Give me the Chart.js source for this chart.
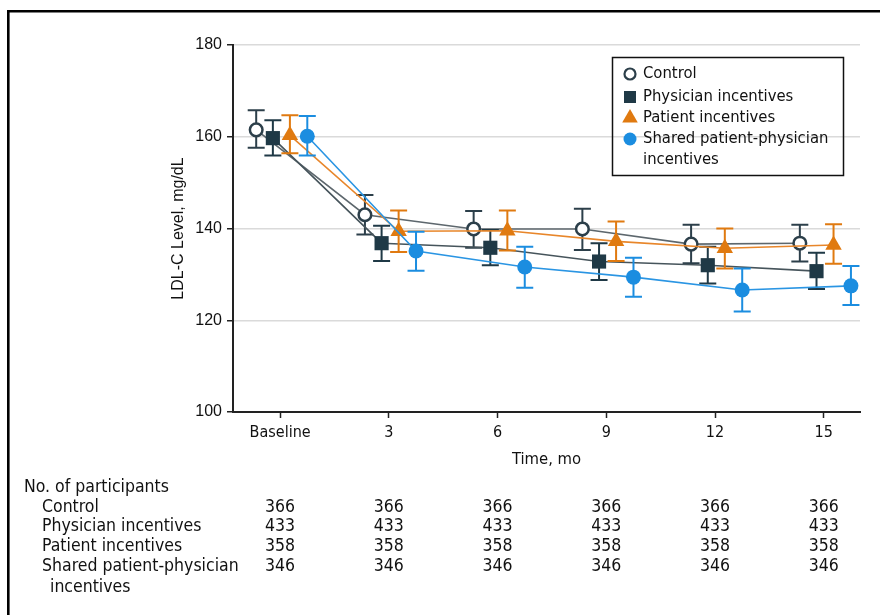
<!DOCTYPE html>
<html>
<head>
<meta charset="utf-8">
<script src="https://cdn.jsdelivr.net/npm/chart.js@4/dist/chart.umd.min.js"></script>
<style>
  html, body { margin: 0; padding: 0; background: #fff; }
  canvas { display: block; }
</style>
</head>
<body>
<canvas id="c" width="880" height="615"></canvas>
<script>
// ---- data ----
const months = [0, 3, 6, 9, 12, 15];
const tickLabels = ['Baseline', '3', '6', '9', '12', '15'];
const seriesNames = ['Control', 'Physician incentives', 'Patient incentives', 'Shared patient-physician incentives'];

const controlMean   = [161.5, 143.0, 139.9, 139.9, 136.6, 136.8];
const controlLow    = [157.6, 138.7, 135.8, 135.3, 132.4, 132.8];
const controlHigh   = [165.8, 147.3, 143.8, 144.3, 140.8, 140.8];

const physicianMean = [159.7, 136.8, 135.8, 132.8, 132.0, 130.7];
const physicianLow  = [155.9, 132.9, 132.0, 128.8, 128.0, 126.8];
const physicianHigh = [163.6, 140.6, 139.7, 136.8, 136.0, 134.7];

const patientMean   = [160.3, 139.4, 139.5, 137.2, 135.7, 136.4];
const patientLow    = [156.4, 134.9, 135.2, 132.9, 131.3, 132.3];
const patientHigh   = [164.7, 143.9, 143.9, 141.5, 140.0, 140.9];

const sharedMean    = [160.1, 135.1, 131.6, 129.4, 126.6, 127.5];
const sharedLow     = [155.9, 130.8, 127.1, 125.1, 121.9, 123.3];
const sharedHigh    = [164.5, 139.3, 136.0, 133.6, 131.3, 131.8];

const participantsTitle = 'No. of participants';
const rowLabels = ['Control', 'Physician incentives', 'Patient incentives', 'Shared patient-physician'];
const controlN   = [366, 366, 366, 366, 366, 366];
const physicianN = [433, 433, 433, 433, 433, 433];
const patientN   = [358, 358, 358, 358, 358, 358];
const sharedN    = [346, 346, 346, 346, 346, 346];

// ---- styles ----
const COND = '"DejaVu Sans Condensed", "Liberation Sans Narrow", "DejaVu Sans", sans-serif';
const REG = '"Liberation Sans", Arial, sans-serif';
const TXT = '#111111';
const dodge = [-0.66, -0.2, 0.27, 0.75];

const styles = [
  { line: '#5d676d', marker: '#2c3f4a', fill: '#ffffff', shape: 'circle', r: 6.3, bw: 2.5 },
  { line: '#46545b', marker: '#1f3946', fill: '#1f3946', shape: 'rect', r: 10, bw: 0 },
  { line: '#e8862a', marker: '#e07a10', fill: '#e07a10', shape: 'triangle', r: 9.5, bw: 0 },
  { line: '#2a95e3', marker: '#1b8de0', fill: '#1b8de0', shape: 'circle', r: 7.5, bw: 0 }
];
const means = [controlMean, physicianMean, patientMean, sharedMean];
const lows = [controlLow, physicianLow, patientLow, sharedLow];
const highs = [controlHigh, physicianHigh, patientHigh, sharedHigh];
const counts = [controlN, physicianN, patientN, sharedN];

const datasets = means.map((m, k) => ({
  label: seriesNames[k],
  data: months.map((t, i) => ({ x: t + dodge[k], y: m[i] })),
  borderColor: styles[k].line,
  borderWidth: 1.6,
  backgroundColor: styles[k].fill,
  pointBackgroundColor: styles[k].fill,
  pointBorderColor: styles[k].marker,
  pointBorderWidth: styles[k].bw,
  pointStyle: styles[k].shape,
  pointRadius: styles[k].r,
  tension: 0,
  fill: false,
  order: 4 - k
}));

function drawMarker(ctx, shape, x, y, r, fill, stroke, bw) {
  ctx.save();
  ctx.beginPath();
  if (shape === 'circle') {
    ctx.arc(x, y, r, 0, Math.PI * 2);
  } else if (shape === 'rect') {
    const s = r * Math.SQRT1_2;
    ctx.rect(x - s, y - s, 2 * s, 2 * s);
  } else {
    ctx.moveTo(x, y - r);
    ctx.lineTo(x + r * Math.sin(2 * Math.PI / 3), y - r * Math.cos(2 * Math.PI / 3));
    ctx.lineTo(x + r * Math.sin(4 * Math.PI / 3), y - r * Math.cos(4 * Math.PI / 3));
    ctx.closePath();
  }
  ctx.fillStyle = fill;
  ctx.fill();
  if (bw > 0) { ctx.lineWidth = bw; ctx.strokeStyle = stroke; ctx.stroke(); }
  ctx.restore();
}

const bgPlugin = {
  id: 'bg',
  beforeDraw(chart) {
    const ctx = chart.ctx;
    ctx.save();
    ctx.fillStyle = '#fff';
    ctx.fillRect(0, 0, chart.width, chart.height);
    ctx.strokeStyle = '#000';
    ctx.lineWidth = 2.6;
    ctx.beginPath();
    ctx.moveTo(8.3, 615);
    ctx.lineTo(8.3, 11.3);
    ctx.lineTo(880, 11.3);
    ctx.stroke();
    ctx.restore();
  }
};

const errPlugin = {
  id: 'errbars',
  beforeDatasetDraw(chart, args) {
    const k = args.index;
    const ys = chart.scales.y;
    const ctx = chart.ctx;
    ctx.save();
    ctx.strokeStyle = styles[k].marker;
    ctx.lineWidth = 2;
    args.meta.data.forEach((pt, i) => {
      const x = pt.x;
      const yl = ys.getPixelForValue(lows[k][i]);
      const yh = ys.getPixelForValue(highs[k][i]);
      ctx.beginPath();
      ctx.moveTo(x, yl); ctx.lineTo(x, yh);
      ctx.moveTo(x - 8.5, yl); ctx.lineTo(x + 8.5, yl);
      ctx.moveTo(x - 8.5, yh); ctx.lineTo(x + 8.5, yh);
      ctx.stroke();
    });
    ctx.restore();
  }
};

const legendTablePlugin = {
  id: 'legendTable',
  afterDraw(chart) {
    const ctx = chart.ctx;
    ctx.save();
    // legend
    ctx.strokeStyle = '#111';
    ctx.lineWidth = 1.5;
    ctx.strokeRect(612.5, 57.5, 231, 118);
    ctx.font = '16.5px ' + COND;
    ctx.fillStyle = TXT;
    ctx.textBaseline = 'middle';
    ctx.textAlign = 'left';
    const ly = [74, 97, 118, 139];
    const lr = [5.5, 8.5, 9, 6.5];
    for (let k = 0; k < 4; k++) {
      const s = styles[k];
      drawMarker(ctx, s.shape, 630, ly[k], lr[k], s.fill, s.marker, s.bw ? 2.2 : 0);
      ctx.fillStyle = TXT;
      if (k < 3) {
        ctx.fillText(seriesNames[k], 643, ly[k]);
      } else {
        ctx.fillText('Shared patient-physician', 643, ly[k]);
        ctx.fillText('incentives', 643, 160);
      }
    }
    // participants table
    const xs = chart.scales.x;
    ctx.font = '17.5px ' + COND;
    ctx.fillStyle = TXT;
    ctx.textAlign = 'left';
    ctx.fillText(participantsTitle, 24, 487);
    const ry = [507, 526, 546, 566];
    for (let k = 0; k < 4; k++) {
      ctx.textAlign = 'left';
      ctx.fillText(rowLabels[k], 42, ry[k]);
      ctx.textAlign = 'center';
      months.forEach((t, i) => {
        ctx.fillText(String(counts[k][i]), xs.getPixelForValue(t), ry[k]);
      });
    }
    ctx.textAlign = 'left';
    ctx.fillText('incentives', 50, 587);
    ctx.restore();
  }
};

new Chart(document.getElementById('c'), {
  type: 'line',
  data: { datasets },
  plugins: [bgPlugin, errPlugin, legendTablePlugin],
  options: {
    responsive: false,
    animation: false,
    devicePixelRatio: 1,
    layout: { padding: { left: 169, top: 45, right: 20, bottom: 145 } },
    plugins: { legend: { display: false }, tooltip: { enabled: false } },
    scales: {
      x: {
        type: 'linear',
        min: -1.3,
        max: 16,
        afterBuildTicks: s => { s.ticks = months.map(v => ({ value: v })); },
        afterFit: s => { s.height = 58; },
        ticks: {
          callback: v => tickLabels[months.indexOf(v)],
          font: { family: COND, size: 16 },
          color: TXT,
          padding: 5.5,
          maxRotation: 0,
          autoSkip: false
        },
        grid: { drawOnChartArea: false, drawTicks: true, tickLength: 6, tickColor: '#222', tickWidth: 1.5 },
        border: { color: '#222', width: 2 },
        title: { display: true, text: 'Time, mo', font: { family: COND, size: 16.5 }, color: TXT, padding: { top: 2, bottom: 0 } }
      },
      y: {
        min: 100,
        max: 180,
        ticks: { stepSize: 20, font: { family: REG, size: 16 }, color: TXT, padding: 5 },
        grid: { color: '#dadada', lineWidth: 1.5, tickColor: '#222', tickLength: 6, tickWidth: 1.5 },
        border: { color: '#222', width: 2 },
        title: { display: true, text: 'LDL-C Level, mg/dL', font: { family: REG, size: 16 }, color: TXT, padding: 0 },
        afterFit: s => { s.width = 64; }
      }
    }
  }
});
</script>
</body>
</html>
